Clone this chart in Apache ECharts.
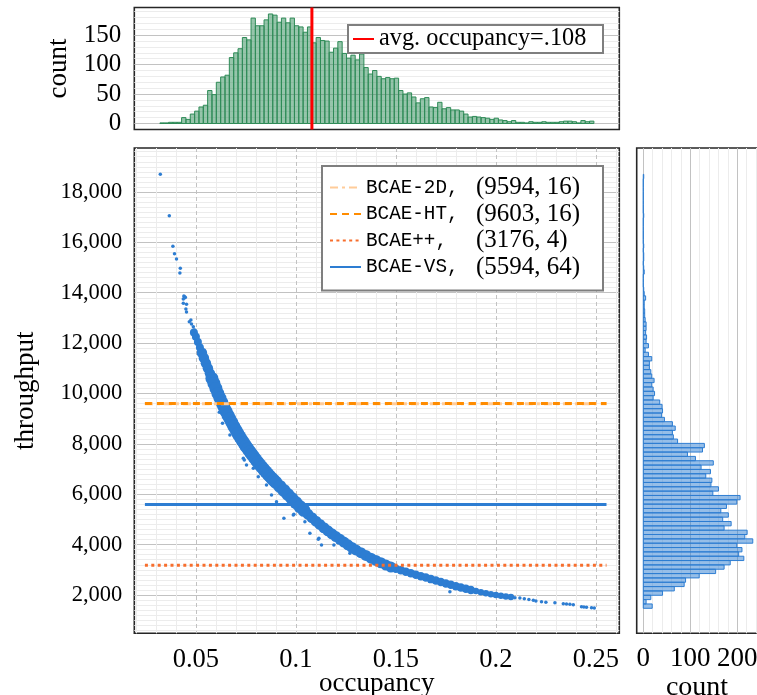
<!DOCTYPE html>
<html>
<head>
<meta charset="utf-8">
<title>occupancy vs throughput</title>
<script src="https://cdn.jsdelivr.net/npm/echarts@6.0.0/dist/echarts.min.js"></script>
<style>
  html, body { margin: 0; padding: 0; background: #fff; }
  #chart { width: 757px; height: 695px; }
</style>
</head>
<body>
<div id="chart"></div>
<script>
// ---------- data ----------

// top histogram: occupancy, 100 bins
const occBinStart = 0.032;
const occBinWidth = 0.00217;
const occCounts = [
  1, 1, 2, 2, 2, 10, 7, 16, 21, 28,
  31, 56, 49, 70, 79, 82, 112, 120, 127, 146,
  142, 179, 166, 166, 176, 186, 184, 172, 179, 171,
  179, 166, 164, 155, 164, 137, 146, 141, 140, 121,
  128, 139, 119, 111, 116, 108, 118, 95, 84, 90,
  80, 76, 78, 76, 77, 56, 50, 52, 45, 35,
  42, 44, 28, 27, 36, 25, 27, 23, 23, 21,
  16, 11, 12, 11, 10, 9, 7, 9, 6, 5,
  3, 5, 2, 2, 1, 3, 2, 2, 3, 2,
  2, 2, 3, 4, 4, 3, 1, 5, 3, 4
];
const avgOccupancy = 0.108;

// right histogram: throughput, 100 bins (low -> high)
const thrBinStart = 1472;
const thrBinWidth = 172.3;
const thrCounts = [
  19, 6, 16, 41, 66, 87, 90, 119, 154, 172,
  185, 214, 203, 210, 199, 233, 216, 221, 172, 187,
  169, 181, 165, 177, 199, 206, 148, 160, 144, 146,
  133, 143, 123, 149, 111, 94, 126, 130, 73, 64,
  62, 68, 62, 45, 39, 41, 40, 35, 21, 24,
  21, 18, 23, 18, 16, 13, 13, 18, 11, 4,
  11, 6, 7, 5, 6, 6, 4, 3, 3, 2,
  2, 5, 2, 1, 0, 0, 0, 2, 1, 0,
  1, 1, 0, 1, 0, 0, 0, 0, 0, 0,
  1, 0, 0, 0, 0, 0, 0, 0, 0, 1
];

// scatter, dense band [occupancy, throughput]
const bandPoints = [
  [0.049, 12420], [0.050, 12250], [0.051, 12040], [0.052, 11830], [0.053, 11620],
  [0.054, 11410], [0.055, 11200], [0.056, 11000], [0.057, 10800], [0.058, 10600],
  [0.059, 10400], [0.060, 10200], [0.061, 10000], [0.062, 9820], [0.063, 9640],
  [0.064, 9470], [0.065, 9300], [0.066, 9140], [0.067, 8990], [0.068, 8840],
  [0.069, 8690], [0.070, 8550], [0.071, 8410], [0.072, 8280], [0.073, 8150],
  [0.074, 8030], [0.075, 7910], [0.076, 7800], [0.077, 7690], [0.078, 7580],
  [0.079, 7475], [0.080, 7370], [0.081, 7270], [0.082, 7170], [0.083, 7075],
  [0.084, 6980], [0.085, 6890], [0.086, 6800], [0.087, 6715], [0.088, 6630],
  [0.089, 6550], [0.090, 6470], [0.092, 6310], [0.094, 6150], [0.096, 5990],
  [0.098, 5830], [0.100, 5670], [0.102, 5510], [0.104, 5360], [0.106, 5210],
  [0.108, 5070], [0.110, 4930], [0.112, 4800], [0.114, 4670], [0.116, 4550],
  [0.118, 4430], [0.120, 4320], [0.122, 4210], [0.124, 4100], [0.126, 3990],
  [0.128, 3890], [0.130, 3790], [0.1325, 3680], [0.135, 3570], [0.1375, 3460],
  [0.140, 3370], [0.1425, 3280], [0.145, 3190], [0.1475, 3110], [0.150, 3040],
  [0.1525, 2980], [0.155, 2920], [0.1575, 2860], [0.160, 2800], [0.1625, 2740],
  [0.165, 2690], [0.1675, 2630], [0.170, 2580], [0.1725, 2520], [0.175, 2460],
  [0.1775, 2410], [0.180, 2350], [0.1825, 2300], [0.185, 2250], [0.1875, 2200],
  [0.190, 2160], [0.1925, 2110], [0.195, 2070], [0.1975, 2030], [0.200, 1995],
  [0.2025, 1965], [0.205, 1940], [0.2075, 1920]
];

// scatter, sparse / outlying points
const sparsePoints = [
  [0.0322, 18703], [0.0367, 17059], [0.0385, 15844], [0.0393, 15550], [0.0403, 15340],
  [0.0422, 14970], [0.0420, 14784], [0.0442, 13843], [0.0440, 13870], [0.0447, 13819],
  [0.0437, 13752], [0.0445, 13800], [0.0437, 13580], [0.0453, 13541], [0.0450, 13355],
  [0.0453, 13235], [0.0467, 12850], [0.0475, 12918], [0.0478, 12759], [0.0487, 12652],
  [0.0482, 12454], [0.0492, 12520], [0.0497, 12255], [0.0488, 12350],
  [0.0617, 9254], [0.0633, 8817], [0.0670, 8352], [0.0737, 7427], [0.0742, 7360],
  [0.0753, 7161], [0.0787, 7030], [0.0812, 6697], [0.0853, 6367], [0.0878, 5970],
  [0.0903, 5704], [0.0940, 5045], [0.0987, 5176], [0.0990, 5204], [0.1045, 4910],
  [0.1070, 4450], [0.1112, 4211], [0.1115, 4251], [0.1128, 3985], [0.1190, 3985],
  [0.1270, 3656], [0.1770, 2130],
  [0.2078, 1908], [0.2095, 1893], [0.2120, 1881], [0.2142, 1855], [0.2165, 1820],
  [0.2187, 1789], [0.2200, 1762], [0.2228, 1735], [0.2250, 1709], [0.2295, 1696],
  [0.2337, 1655], [0.2353, 1643], [0.2370, 1630], [0.2387, 1617], [0.2428, 1536],
  [0.2440, 1524], [0.2453, 1511], [0.2478, 1496], [0.2492, 1484]
];

// reference lines
const refNames = ['BCAE-2D', 'BCAE-HT', 'BCAE++', 'BCAE-VS'];
const refThroughput = [9594, 9603, 3176, 5594];
const refParams = [16, 16, 4, 64];
const refOccRange = [0.0245, 0.2553];

// ticks
const occTicks = [0.05, 0.1, 0.15, 0.2, 0.25];
const thrTicks = [2000, 4000, 6000, 8000, 10000, 12000, 14000, 16000, 18000];
const topCountTicks = [0, 50, 100, 150];
const rightCountTicks = [0, 100, 200];

const occMinor = [];
for (let i = 2; i <= 26; i++) if (i % 5) occMinor.push(i / 100);
const thrMinor = [];
for (let v = 600; v <= 19600; v += 200) if (v % 2000) thrMinor.push(v);
const topCountMinor = [];
for (let v = 10; v <= 190; v += 10) if (v % 50) topCountMinor.push(v);
const rightCountMinor = [];
for (let v = 20; v <= 260; v += 20) if (v % 100) rightCountMinor.push(v);

// axis extents
const occRange = [0.0192, 0.2617];
const thrRange = [479, 19747];
const topCountRange = [-10.2, 197];
const rightCountRange = [-14, 262];

// ---------- chart ----------
const BLUE = '#2d7dd2';
const serif = 'Liberation Serif';
const mono = 'Liberation Mono';
const MAJOR = '#c2c2c2';
const MINOR = '#ececec';
const FRAME = '#262626';

const chart = echarts.init(document.getElementById('chart'));

function minorAxis(gridIndex, range, values, position) {
  return {
    type: 'value', gridIndex: gridIndex, min: range[0], max: range[1],
    position: position,
    axisLine: { show: false },
    axisTick: { show: false, customValues: values },
    axisLabel: { show: false, customValues: values },
    splitLine: { show: true, lineStyle: { color: MINOR, width: 1 } }
  };
}

const nameStyle = { fontFamily: serif, fontSize: 27, color: '#000' };

const refStyles = [
  { color: '#ffcc99', type: [8, 4, 3, 4] },
  { color: '#ff8c00', type: [7, 5] },
  { color: '#f76e2d', type: [3, 3.4] },
  { color: BLUE, type: 'solid' }
];

const refSeries = refNames.map((name, i) => ({
  name: name,
  type: 'line',
  xAxisIndex: 1,
  yAxisIndex: 1,
  symbol: 'none',
  z: 4,
  lineStyle: { color: refStyles[i].color, width: 3, type: refStyles[i].type },
  itemStyle: { color: refStyles[i].color },
  data: [[refOccRange[0], refThroughput[i]], [refOccRange[1], refThroughput[i]]]
}));

const avgName = 'avg. occupancy=' + String(avgOccupancy).replace(/^0/, '');

const gridBase = { show: true, borderColor: FRAME, borderWidth: 1.6, outerBoundsMode: 'none', containLabel: false };

const option = {
  animation: false,
  backgroundColor: '#fff',
  grid: [
    { ...gridBase, left: 134.3, top: 148, width: 485, height: 485.3 },
    { ...gridBase, left: 134.3, top: 7.5, width: 485, height: 122 },
    { ...gridBase, left: 636.7, top: 148, width: 129.7, height: 485.3 }
  ],
  legend: [
    {
      data: refNames,
      left: 322, top: 166,
      orient: 'vertical',
      padding: [9, 0, 11, 7],
      itemGap: 1.5,
      itemWidth: 31,
      itemHeight: 26.3,
      itemStyle: { opacity: 0 },
      selectedMode: false,
      backgroundColor: '#fff',
      borderColor: '#7f7f7f',
      borderWidth: 2,
      formatter: function (name) {
        const i = refNames.indexOf(name);
        return '{m|' + name + ',}{s|(' + refThroughput[i] + ', ' + refParams[i] + ')}';
      },
      textStyle: {
        rich: {
          m: { fontFamily: mono, fontSize: 19.3, width: 110, lineHeight: 26.3, color: '#000' },
          s: { fontFamily: serif, fontSize: 25, width: 127, lineHeight: 26.3, color: '#000' }
        }
      }
    },
    {
      data: [avgName],
      left: 348, top: 25,
      padding: [2, 0, 2, 4],
      itemWidth: 21,
      itemHeight: 24,
      itemStyle: { opacity: 0 },
      selectedMode: false,
      backgroundColor: '#fff',
      borderColor: '#7f7f7f',
      borderWidth: 2,
      formatter: '{a|{name}}',
      textStyle: {
        rich: { a: { fontFamily: serif, fontSize: 24.3, width: 224, lineHeight: 24, color: '#000' } }
      }
    }
  ],
  xAxis: [
    minorAxis(0, occRange, occMinor, 'top'),
    {
      type: 'value', gridIndex: 0, min: occRange[0], max: occRange[1],
      position: 'bottom',
      name: 'occupancy', nameLocation: 'middle', nameGap: 37, nameMoveOverlap: false,
      nameTextStyle: nameStyle,
      axisLine: { show: false },
      axisTick: { show: false, customValues: occTicks },
      axisLabel: {
        customValues: occTicks, margin: 13,
        fontFamily: serif, fontSize: 26.5, color: '#000',
        formatter: v => String(v)
      },
      splitLine: { show: true, lineStyle: { color: MAJOR, width: 1, type: [4, 3] } }
    },
    {
      type: 'value', gridIndex: 1, min: occRange[0], max: occRange[1],
      axisLine: { show: false }, axisTick: { show: false },
      axisLabel: { show: false }, splitLine: { show: false }
    },
    minorAxis(2, rightCountRange, rightCountMinor, 'top'),
    {
      type: 'value', gridIndex: 2, min: rightCountRange[0], max: rightCountRange[1],
      position: 'bottom',
      name: 'count', nameLocation: 'middle', nameGap: 40, nameMoveOverlap: false,
      nameTextStyle: { fontFamily: serif, fontSize: 28, color: '#000', padding: [0, 9, 0, 0] },
      axisLine: { show: false },
      axisTick: { show: false, customValues: rightCountTicks },
      axisLabel: { customValues: rightCountTicks, margin: 12, fontFamily: serif, fontSize: 27, color: '#000' },
      splitLine: { show: true, lineStyle: { color: MAJOR, width: 1 } }
    }
  ],
  yAxis: [
    minorAxis(0, thrRange, thrMinor, 'right'),
    {
      type: 'value', gridIndex: 0, min: thrRange[0], max: thrRange[1],
      position: 'left',
      name: 'throughput', nameLocation: 'middle', nameGap: 95, nameMoveOverlap: false,
      nameTextStyle: nameStyle,
      axisLine: { show: false },
      axisTick: { show: false, customValues: thrTicks },
      axisLabel: {
        customValues: thrTicks, margin: 12,
        fontFamily: serif, fontSize: 22.5, color: '#000',
        formatter: v => v.toLocaleString('en-US')
      },
      splitLine: { show: true, lineStyle: { color: MAJOR, width: 1 } }
    },
    minorAxis(1, topCountRange, topCountMinor, 'right'),
    {
      type: 'value', gridIndex: 1, min: topCountRange[0], max: topCountRange[1],
      position: 'left',
      name: 'count', nameLocation: 'middle', nameGap: 62, nameMoveOverlap: false,
      nameTextStyle: nameStyle,
      axisLine: { show: false },
      axisTick: { show: false, customValues: topCountTicks },
      axisLabel: { customValues: topCountTicks, margin: 13, fontFamily: serif, fontSize: 25, color: '#000' },
      splitLine: { show: true, lineStyle: { color: MAJOR, width: 1 } }
    },
    {
      type: 'value', gridIndex: 2, min: thrRange[0], max: thrRange[1],
      axisLine: { show: false }, axisTick: { show: false },
      axisLabel: { show: false }, splitLine: { show: false }
    }
  ],
  series: [
    {
      name: 'band',
      type: 'scatter',
      xAxisIndex: 1, yAxisIndex: 1,
      z: 2,
      symbolSize: function (v) {
        if (v[0] < 0.053) return 8;
        if (v[0] < 0.058) return 10.5;
        if (v[0] < 0.105) return 13;
        if (v[0] < 0.15) return 11;
        if (v[0] < 0.19) return 8.5;
        return 6.5;
      },
      itemStyle: { color: BLUE, opacity: 1 },
      data: bandPoints
    },
    {
      name: 'points',
      type: 'scatter',
      xAxisIndex: 1, yAxisIndex: 1,
      z: 2,
      symbolSize: 3.5,
      itemStyle: { color: BLUE, opacity: 1 },
      data: sparsePoints
    },
    ...refSeries,
    {
      name: 'occupancy histogram',
      type: 'custom',
      xAxisIndex: 2, yAxisIndex: 3,
      encode: { x: [0, 1], y: 2 },
      renderItem: function (params, api) {
        const p0 = api.coord([api.value(0), api.value(2)]);
        const p1 = api.coord([api.value(1), 0]);
        return {
          type: 'rect',
          shape: { x: p0[0], y: p0[1], width: p1[0] - p0[0], height: p1[1] - p0[1] },
          style: { fill: 'rgba(46,139,87,0.5)', stroke: '#2e8b57', lineWidth: 1 }
        };
      },
      data: occCounts.map((c, i) => [occBinStart + i * occBinWidth, occBinStart + (i + 1) * occBinWidth, c])
    },
    {
      name: avgName,
      type: 'line',
      xAxisIndex: 2, yAxisIndex: 3,
      symbol: 'none',
      z: 4,
      lineStyle: { color: '#ff0000', width: 3 },
      itemStyle: { color: '#ff0000' },
      data: [[avgOccupancy, topCountRange[0]], [avgOccupancy, topCountRange[1]]]
    },
    {
      name: 'throughput histogram',
      type: 'custom',
      xAxisIndex: 4, yAxisIndex: 4,
      encode: { x: 2, y: [0, 1] },
      renderItem: function (params, api) {
        const p0 = api.coord([0, api.value(1)]);
        const p1 = api.coord([api.value(2), api.value(0)]);
        return {
          type: 'rect',
          shape: { x: p0[0], y: p0[1], width: p1[0] - p0[0], height: p1[1] - p0[1] },
          style: { fill: 'rgba(45,125,210,0.5)', stroke: BLUE, lineWidth: 1 }
        };
      },
      data: thrCounts.map((c, i) => [thrBinStart + i * thrBinWidth, thrBinStart + (i + 1) * thrBinWidth, c])
    }
  ]
};

chart.setOption(option);
</script>
</body>
</html>
